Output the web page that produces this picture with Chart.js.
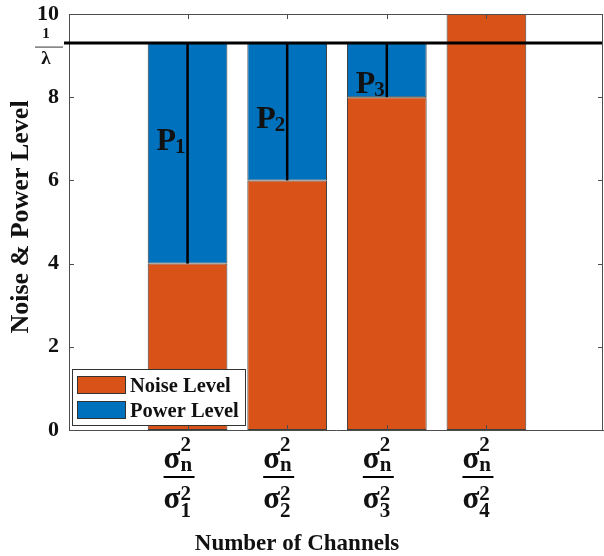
<!DOCTYPE html>
<html>
<head>
<meta charset="utf-8">
<script src="https://cdn.jsdelivr.net/npm/chart.js@4.4.0/dist/chart.umd.min.js"></script>
<style>
  html, body { margin: 0; padding: 0; background: #ffffff; }
  #wrap { width: 604px; height: 556px; }
</style>
</head>
<body>
<div id="wrap"><canvas id="c" width="604" height="556"></canvas></div>
<script>
// Water-filling picture: noise floor per channel, power poured up to 1/λ
const channels = [1, 2, 3, 4];
const channelSubs = ['1', '2', '3', '4'];
const noiseLevel = [4, 6, 8, 10];
const powerLevel = [5.3, 3.3, 1.3, 0];
const waterLevel = 9.3;
const yTickValues = [0, 2, 4, 6, 8, 10];
const powerNames = ['1', '2', '3'];
const powerLabelY = [6.73, 7.26, 8.1];

const SERIF = '"Liberation Serif", "Times New Roman", serif';
const ORANGE = '#D95319';
const BLUE = '#0072BD';
const AXIS = '#4d4d4d';
const INK = '#111111';

function sigmaTerm(ctx, x, base, sup, sub, supDy, subDy) {
  ctx.font = 'bold 31px ' + SERIF;
  ctx.fillText('σ', x, base);
  const w = ctx.measureText('σ').width;
  ctx.font = 'bold 21px ' + SERIF;
  ctx.fillText(sup, x + w, base + supDy);
  ctx.fillText(sub, x + w, base + subDy);
}

const decorations = {
  id: 'decorations',
  afterDatasetsDraw(chart) {
    const { ctx, chartArea: a, scales: { x, y } } = chart;
    ctx.save();
    // power columns between noise floor and water level
    ctx.strokeStyle = '#000';
    ctx.lineWidth = 2.5;
    channels.forEach((c, i) => {
      if (powerLevel[i] <= 0) return;
      const px = x.getPixelForValue(c);
      ctx.beginPath();
      ctx.moveTo(px, y.getPixelForValue(waterLevel));
      ctx.lineTo(px, y.getPixelForValue(noiseLevel[i]));
      ctx.stroke();
    });
    // P_i labels
    ctx.fillStyle = INK;
    ctx.textBaseline = 'alphabetic';
    ctx.textAlign = 'left';
    powerNames.forEach((n, i) => {
      const px = x.getPixelForValue(channels[i]) - 31;
      const py = y.getPixelForValue(powerLabelY[i]);
      ctx.font = 'bold 32px ' + SERIF;
      ctx.fillText('P', px, py);
      const w = ctx.measureText('P').width;
      ctx.font = 'bold 21px ' + SERIF;
      ctx.fillText(n, px + w - 1, py + 3);
    });
    // frame and inward ticks
    ctx.strokeStyle = AXIS;
    ctx.lineWidth = 1;
    ctx.beginPath();
    ctx.moveTo(a.left, a.top + 0.5); ctx.lineTo(a.right, a.top + 0.5);
    ctx.moveTo(a.right - 0.5, a.top); ctx.lineTo(a.right - 0.5, a.bottom);
    yTickValues.forEach(v => {
      const py = Math.round(y.getPixelForValue(v)) + 0.5;
      ctx.moveTo(a.left, py); ctx.lineTo(a.left + 5, py);
      ctx.moveTo(a.right, py); ctx.lineTo(a.right - 5, py);
    });
    channels.forEach(c => {
      const px = Math.round(x.getPixelForValue(c)) + 0.5;
      ctx.moveTo(px, a.bottom); ctx.lineTo(px, a.bottom - 5);
      ctx.moveTo(px, a.top); ctx.lineTo(px, a.top + 5);
    });
    ctx.stroke();
    ctx.restore();
  },
  afterDraw(chart) {
    const { ctx, scales: { x, y } } = chart;
    ctx.save();
    ctx.fillStyle = INK;
    ctx.textBaseline = 'alphabetic';

    // 1/λ mark on the value axis
    const wy = y.getPixelForValue(waterLevel);
    ctx.textAlign = 'center';
    ctx.font = 'bold 15px ' + SERIF;
    ctx.fillText('1', 46, wy - 5);
    ctx.strokeStyle = '#777';
    ctx.lineWidth = 1.5;
    ctx.beginPath(); ctx.moveTo(35, wy + 4); ctx.lineTo(63, wy + 4); ctx.stroke();
    ctx.font = 'bold 19px ' + SERIF;
    ctx.fillText('λ', 46, wy + 21);

    // channel labels σn² / σi²
    ctx.textAlign = 'left';
    channels.forEach((c, i) => {
      const left = x.getPixelForValue(c) - 24;
      const F = 477;
      sigmaTerm(ctx, left, F - 9, '2', 'n', -17, 3);
      ctx.strokeStyle = '#000';
      ctx.lineWidth = 2;
      ctx.beginPath(); ctx.moveTo(left, F); ctx.lineTo(left + 31, F); ctx.stroke();
      sigmaTerm(ctx, left, F + 31, '2', channelSubs[i], -8, 9);
    });

    // axis titles
    ctx.textAlign = 'center';
    ctx.font = 'bold 23px ' + SERIF;
    ctx.fillText('Number of Channels', 297, 550);
    ctx.save();
    ctx.translate(28, 217);
    ctx.rotate(-Math.PI / 2);
    ctx.font = 'bold 26px ' + SERIF;
    ctx.fillText('Noise & Power Level', 0, 0);
    ctx.restore();

    // legend
    const lx = 72.5, ly = 369.5;
    ctx.fillStyle = '#fff';
    ctx.fillRect(lx, ly, 173, 56);
    ctx.strokeStyle = '#333';
    ctx.lineWidth = 1;
    ctx.strokeRect(lx, ly, 173, 56);
    const items = [
      { label: chart.data.datasets[1].label, color: ORANGE, y: 376 },
      { label: chart.data.datasets[2].label, color: BLUE, y: 401 }
    ];
    items.forEach(it => {
      ctx.fillStyle = it.color;
      ctx.fillRect(77, it.y, 49, 18);
      ctx.strokeStyle = '#333';
      ctx.strokeRect(77.5, it.y + 0.5, 48, 17);
      ctx.fillStyle = INK;
      ctx.textAlign = 'left';
      ctx.font = 'bold 20.5px ' + SERIF;
      ctx.fillText(it.label, 130, it.y + 16);
    });
    ctx.restore();
  }
};

const barBorder = c => (c.raw && c.raw.y > 0 ? 1 : 0);

new Chart(document.getElementById('c'), {
  type: 'bar',
  data: {
    datasets: [
      {
        type: 'line',
        label: '1/λ',
        data: [{ x: -0.24, y: waterLevel }, { x: 5.17, y: waterLevel }],
        borderColor: '#000',
        borderWidth: 3,
        pointRadius: 0,
        clip: false,
        order: 0
      },
      {
        label: 'Noise Level',
        data: channels.map((c, i) => ({ x: c, y: noiseLevel[i] })),
        backgroundColor: ORANGE,
        borderColor: '#3c3c3c',
        borderWidth: barBorder,
        borderSkipped: false,
        barPercentage: 0.8,
        categoryPercentage: 1,
        order: 1
      },
      {
        label: 'Power Level',
        data: channels.map((c, i) => ({ x: c, y: powerLevel[i] })),
        backgroundColor: BLUE,
        borderColor: '#3c3c3c',
        borderWidth: barBorder,
        borderSkipped: false,
        barPercentage: 0.8,
        categoryPercentage: 1,
        order: 1
      }
    ]
  },
  options: {
    responsive: false,
    animation: false,
    devicePixelRatio: 1,
    layout: { padding: { left: 0, right: 1, top: 14, bottom: 0 } },
    plugins: { legend: { display: false }, tooltip: { enabled: false } },
    scales: {
      x: {
        type: 'linear',
        min: -0.19,
        max: 5.17,
        stacked: true,
        offset: false,
        ticks: { display: false },
        grid: { display: false, drawTicks: false },
        border: { display: true, color: AXIS, width: 1 },
        afterFit(s) { s.height = 126; s.paddingLeft = 0; s.paddingRight = 0; }
      },
      y: {
        min: 0,
        max: 10,
        stacked: true,
        afterBuildTicks(s) { s.ticks = yTickValues.map(v => ({ value: v })); },
        ticks: {
          font: { family: SERIF, size: 22, weight: 'bold' },
          color: INK,
          padding: 10
        },
        grid: { display: false, drawTicks: false },
        border: { display: true, color: AXIS, width: 1 },
        afterFit(s) { s.width = 69; s.paddingTop = 0; s.paddingBottom = 0; }
      }
    }
  },
  plugins: [decorations]
});
</script>
</body>
</html>
